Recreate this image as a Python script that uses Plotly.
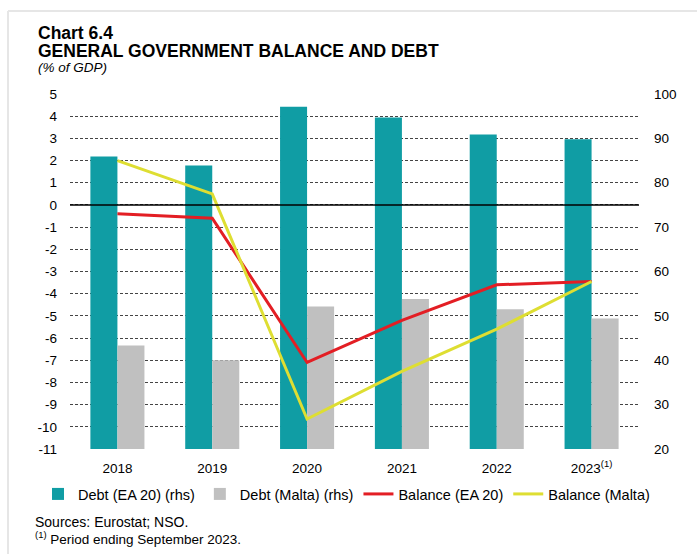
import plotly.graph_objects as go

years = ["2018", "2019", "2020", "2021", "2022", "2023<sup>(1)</sup>"]
debt_ea20 = [85.9, 83.9, 97.1, 94.7, 90.9, 89.8]
debt_malta = [43.3, 40.0, 52.1, 53.8, 51.5, 49.4]
bal_ea20 = [-0.4, -0.6, -7.1, -5.2, -3.6, -3.45]
bal_malta = [2.0, 0.5, -9.65, -7.5, -5.6, -3.45]

left_ticks = [5, 4, 3, 2, 1, 0, -1, -2, -3, -4, -5, -6, -7, -8, -9, -10, -11]
left_labels = ["5", "4", "3", "2", "1", "0", "-1", "-2", "-3", "-4", "-5", "-6",
               "-7", "-8", "-9", "-10", "-11"]
right_ticks = [100, 90, 80, 70, 60, 50, 40, 30, 20]

W, H = 697, 554
L, R, T, B = 70, 58, 94, 105
PW, PH = W - L - R, H - T - B

def px(x):
    return (x - L) / PW

def py(y):
    return (H - B - y) / PH

FONT = "Liberation Sans, Arial, sans-serif"

fig = go.Figure()
fig.add_trace(go.Bar(x=years, y=debt_ea20, name="Debt (EA 20) (rhs)",
                     marker=dict(color="#109da4", line=dict(width=0)), yaxis="y"))
fig.add_trace(go.Bar(x=years, y=debt_malta, name="Debt (Malta) (rhs)",
                     marker=dict(color="#c0c0c0", line=dict(width=0)), yaxis="y"))
fig.add_trace(go.Scatter(x=years, y=bal_ea20, name="Balance (EA 20)", mode="lines",
                         line=dict(color="#e31e24", width=3), yaxis="y2"))
fig.add_trace(go.Scatter(x=years, y=bal_malta, name="Balance (Malta)", mode="lines",
                         line=dict(color="#dede32", width=3), yaxis="y2"))

fig.update_layout(
    width=W, height=H,
    margin=dict(l=L, r=R, t=T, b=B),
    paper_bgcolor="white", plot_bgcolor="white",
    font=dict(family=FONT, size=13.5, color="#000"),
    barmode="group", bargap=0.43, bargroupgap=0,
    showlegend=True,
    legend=dict(orientation="h", x=px(38), xanchor="left", y=py(494), yanchor="middle",
                font=dict(size=14.5), itemwidth=30, tracegroupgap=0,
                traceorder="normal"),
    xaxis=dict(type="category", showgrid=False, showline=False, ticks="",
               tickfont=dict(size=13.5), ticklabelstandoff=9),
    yaxis=dict(side="right", range=[20, 100], tickvals=right_ticks, showgrid=False,
               zeroline=False, showline=False, ticks="", tickfont=dict(size=13.5),
               ticklabelstandoff=14),
    yaxis2=dict(side="left", overlaying="y", range=[-11, 5], tickvals=left_ticks,
                ticktext=left_labels,
                showgrid=True, gridcolor="#444", gridwidth=1, griddash="3px,2px",
                zeroline=False, showline=False, ticks="", tickfont=dict(size=13.5),
                ticklabelstandoff=12),
)

shapes = [
    dict(type="line", xref="paper", yref="y2", x0=0, x1=1, y0=0, y1=0,
         line=dict(color="black", width=1.5), layer="above"),
    dict(type="line", xref="paper", yref="paper", x0=px(8), x1=px(8), y0=py(11), y1=py(554),
         line=dict(color="#e6e6e6", width=2)),
    dict(type="line", xref="paper", yref="paper", x0=px(8), x1=px(697), y0=py(11), y1=py(11),
         line=dict(color="#e6e6e6", width=2)),
]
fig.update_layout(shapes=shapes)

annos = [
    dict(text="<b>Chart 6.4</b>", x=px(36), y=py(33), size=17.5),
    dict(text="<b>GENERAL GOVERNMENT BALANCE AND DEBT</b>", x=px(36), y=py(51), size=17.5),
    dict(text="<i>(% of GDP)</i>", x=px(36), y=py(67), size=13.5),
    dict(text="Sources: Eurostat; NSO.", x=px(33), y=py(522), size=14),
    dict(text="<sup>(1)</sup> Period ending September 2023.", x=px(33), y=py(538), size=13.5),
]
for a in annos:
    fig.add_annotation(text=a["text"], xref="paper", yref="paper", x=a["x"], y=a["y"],
                       xanchor="left", yanchor="middle", showarrow=False,
                       font=dict(size=a["size"], family=FONT, color="#000"))

fig.write_html("out.html")
